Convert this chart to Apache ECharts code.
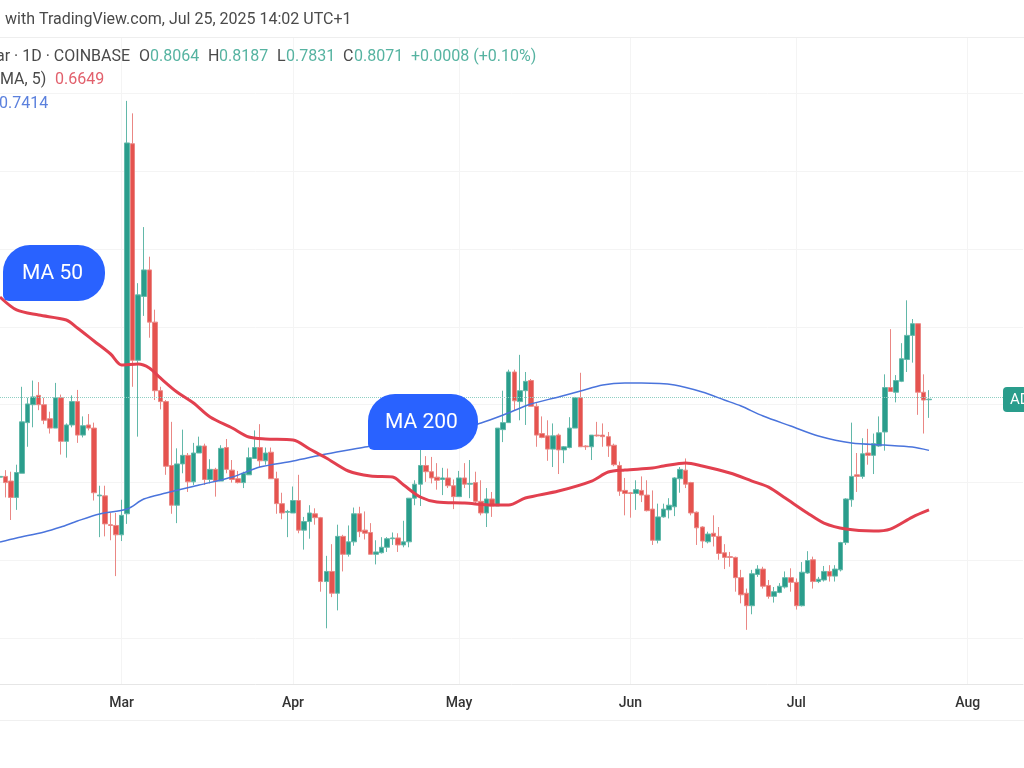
<!DOCTYPE html>
<html>
<head>
<meta charset="utf-8">
<title>ADA daily chart</title>
<style>
  html, body { margin: 0; padding: 0; background: #fff; }
  #chart { width: 1024px; height: 768px; }
</style>
<script src="https://cdn.jsdelivr.net/npm/echarts@6/dist/echarts.min.js"></script>
</head>
<body>
<div id="chart"></div>
<script>
// daily candles from 7 Feb 2025: open, close, low, high
var candles = [
  [.707,.708,.703,.716],[.708,.700,.681,.716],[.702,.681,.652,.714],[.681,.713,.665,.723],
  [.712,.778,.712,.823],[.777,.801,.746,.809],[.800,.810,.771,.831],[.812,.800,.793,.829],
  [.800,.780,.775,.809],[.782,.770,.763,.791],[.770,.809,.770,.828],[.809,.753,.736,.813],
  [.753,.774,.732,.776],[.774,.804,.771,.812],[.804,.761,.751,.819],[.761,.773,.758,.785],
  [.774,.770,.767,.788],[.770,.687,.677,.777],[.683,.684,.630,.696],[.683,.647,.631,.696],
  [.646,.645,.626,.661],[.645,.633,.580,.661],[.633,.658,.625,.678],[.660,1.136,.647,1.190],
  [1.135,.857,.823,1.174],[.857,.941,.759,.956],[.939,.973,.914,1.028],[.973,.906,.886,.990],
  [.906,.818,.806,.922],[.818,.804,.794,.823],[.804,.721,.710,.806],[.722,.671,.660,.778],
  [.671,.724,.648,.744],[.724,.735,.712,.768],[.735,.701,.688,.738],[.701,.738,.697,.751],
  [.738,.747,.738,.759],[.747,.704,.697,.750],[.704,.717,.699,.730],[.717,.702,.682,.719],
  [.702,.744,.702,.748],[.745,.717,.712,.756],[.716,.704,.700,.729],[.705,.700,.699,.715],
  [.700,.712,.693,.714],[.710,.732,.710,.745],[.731,.745,.731,.767],[.745,.728,.720,.775],
  [.728,.738,.723,.745],[.739,.705,.705,.745],[.705,.673,.660,.714],[.673,.661,.653,.687],
  [.662,.663,.630,.665],[.661,.677,.661,.695],[.677,.639,.635,.710],[.639,.650,.614,.656],
  [.650,.661,.628,.671],[.660,.655,.646,.667],[.655,.573,.560,.656],[.573,.586,.513,.606],
  [.586,.558,.553,.621],[.558,.631,.536,.646],[.631,.608,.586,.633],[.608,.624,.605,.645],
  [.624,.660,.619,.668],[.660,.637,.630,.669],[.639,.635,.627,.663],[.636,.608,.608,.648],
  [.608,.611,.595,.626],[.610,.617,.609,.630],[.617,.628,.611,.630],[.628,.629,.620,.636],
  [.629,.620,.611,.635],[.620,.624,.617,.651],[.624,.680,.617,.680],[.680,.698,.671,.703],
  [.698,.722,.670,.742],[.722,.714,.701,.734],[.714,.706,.699,.733],[.707,.703,.691,.725],
  [.704,.706,.684,.719],[.706,.696,.693,.718],[.696,.682,.666,.704],[.682,.706,.682,.715],
  [.706,.698,.693,.725],[.698,.699,.680,.729],[.700,.676,.673,.714],[.676,.661,.658,.703],
  [.661,.679,.643,.693],[.679,.670,.656,.688],[.670,.770,.670,.770],[.768,.777,.752,.818],
  [.777,.842,.777,.845],[.842,.805,.793,.845],[.804,.818,.780,.864],[.818,.830,.774,.842],
  [.831,.798,.798,.833],[.798,.761,.746,.802],[.763,.758,.757,.785],[.760,.743,.728,.780],
  [.743,.760,.720,.776],[.761,.742,.711,.763],[.742,.746,.725,.747],[.745,.770,.744,.784],
  [.770,.809,.770,.810],[.809,.746,.746,.841],[.747,.746,.742,.748],[.746,.761,.729,.761],
  [.761,.760,.759,.778],[.761,.759,.746,.776],[.759,.747,.733,.765],[.748,.723,.721,.750],
  [.722,.689,.683,.727],[.690,.686,.658,.706],[.687,.686,.655,.688],[.686,.691,.665,.703],
  [.690,.684,.675,.708],[.684,.664,.663,.703],[.666,.626,.620,.690],[.626,.656,.622,.673],
  [.656,.666,.655,.673],[.665,.671,.654,.680],[.669,.706,.657,.707],[.705,.717,.687,.720],
  [.716,.698,.693,.731],[.700,.661,.658,.701],[.662,.642,.620,.663],[.643,.625,.616,.644],
  [.624,.634,.622,.637],[.635,.631,.618,.658],[.631,.609,.601,.643],[.610,.604,.589,.621],
  [.605,.604,.592,.611],[.604,.578,.560,.605],[.578,.556,.545,.588],[.558,.542,.511,.564],
  [.542,.583,.531,.588],[.582,.589,.579,.594],[.589,.567,.564,.592],[.568,.554,.551,.575],
  [.554,.560,.546,.566],[.559,.567,.558,.571],[.566,.578,.564,.586],[.578,.572,.560,.590],
  [.572,.542,.537,.577],[.542,.585,.541,.598],[.584,.600,.583,.612],[.601,.573,.564,.605],
  [.573,.576,.571,.579],[.575,.586,.573,.593],[.586,.580,.573,.594],[.580,.589,.573,.594],
  [.588,.623,.586,.624],[.623,.679,.620,.680],[.678,.708,.669,.777],[.710,.708,.688,.738],
  [.708,.737,.705,.757],[.738,.735,.723,.769],[.735,.750,.711,.763],[.747,.764,.746,.785],
  [.765,.822,.741,.839],[.822,.817,.817,.897],[.816,.831,.803,.838],[.830,.859,.829,.879],
  [.858,.889,.842,.934],[.889,.904,.854,.910],[.904,.816,.787,.904],[.816,.806,.763,.839],
  [.8064,.8071,.7831,.8187]
];

// moving averages at these days (days since 7 Feb)
var ma50Days = [0,3,7,12,14,17,20,22,25,27,29,32,35,38,42,45,48,53,56,59,63,67,71,73,76,79,84,89,92,95,101,107,110,113,118,120,124,127,132,136,139,142,146,149,153,158,161,165,168];
var ma50Values = [.9382,.9216,.9151,.9087,.8985,.8818,.8651,.8509,.8522,.8471,.8343,.8163,.8022,.7842,.7701,.7585,.7560,.7547,.7431,.7316,.7149,.7084,.7072,.6969,.6815,.6751,.6738,.6712,.6712,.6802,.6892,.7020,.7136,.7162,.7187,.7213,.7252,.7213,.7123,.7020,.6943,.6802,.6610,.6481,.6404,.6379,.6404,.6558,.6649];
var ma200Days = [0,3,8,11,14,18,23,26,30,36,42,47,53,59,66,74,81,87,91,96,101,105,109,113,116,122,127,131,134,138,143,148,154,160,165,168];
var ma200Values = [.6237,.6289,.6366,.6430,.6507,.6597,.6661,.6789,.6866,.6969,.7072,.7200,.7277,.7367,.7457,.7560,.7637,.7765,.7868,.8009,.8099,.8176,.8253,.8278,.8278,.8253,.8163,.8060,.7983,.7855,.7726,.7598,.7508,.7483,.7457,.7414];

var lastPrice = 0.8071;
var priceGrid = [0.5, 0.6, 0.7, 0.8, 0.9, 1.0, 1.1, 1.2];
var monthNames = ['Jan','Feb','Mar','Apr','May','Jun','Jul','Aug','Sep','Oct','Nov','Dec'];
var dayCount = 186;

var dates = [];
for (var i = 0; i < dayCount; i++) {
  dates.push(new Date(Date.UTC(2025, 1, 7 + i)));
}
var dayLabels = dates.map(function(d) {
  return d.getUTCDate() === 1 ? monthNames[d.getUTCMonth()] : '';
});
function isMonthStart(index) {
  return dayLabels[index] !== '';
}
function pairs(days, values) {
  return days.map(function(d, k) { return [d, values[k]]; });
}

var green = '#2a9d8c';
var red = '#e5534f';
var font = 'Roboto, sans-serif';
var dark = '#4a4a4a';
var softGreen = '#56b3a1';

function headText(text, x, y, color) {
  return { type: 'text', z: 60, style: { text: text, x: x, y: y, verticalAlign: 'middle', fill: color, font: '16px ' + font } };
}
function bubble(x, y, w, h, label) {
  return [
    { type: 'rect', z: 100, shape: { x: x, y: y, width: w, height: h, r: [27, 27, 27, 6] }, style: { fill: '#2962ff' } },
    { type: 'text', z: 101, style: { text: label, x: x + w / 2 - 1.5, y: y + h / 2 + 1, align: 'center', verticalAlign: 'middle', fill: '#fff', font: '21px ' + font } }
  ];
}

var chart = echarts.init(document.getElementById('chart'), null, { renderer: 'canvas' });

chart.setOption({
  animation: false,
  backgroundColor: '#ffffff',
  grid: { left: 0, top: 37, width: 1023, height: 647 },
  xAxis: {
    type: 'category',
    data: dayLabels,
    boundaryGap: false,
    axisLine: { lineStyle: { color: '#e6e6e6' } },
    axisTick: { show: false },
    axisLabel: {
      interval: function(index) { return isMonthStart(index); },
      color: '#333',
      fontFamily: font,
      fontSize: 14,
      fontWeight: 500,
      margin: 12
    },
    splitLine: {
      show: true,
      interval: function(index) { return isMonthStart(index); },
      lineStyle: { color: '#f4f4f4' }
    }
  },
  yAxis: {
    type: 'value',
    min: 0.4415,
    max: 1.272,
    axisLine: { show: false },
    axisTick: { show: false, customValues: priceGrid },
    axisLabel: { show: false },
    splitLine: { show: true, lineStyle: { color: '#f4f4f4' } }
  },
  series: [
    {
      type: 'candlestick',
      data: candles,
      barWidth: 5,
      itemStyle: {
        color: green,
        color0: red,
        borderColor: '#62b8a9',
        borderColor0: '#ea8784',
        borderWidth: 1
      },
      markLine: {
        silent: true,
        symbol: 'none',
        label: { show: false },
        lineStyle: { color: '#8fcfc3', type: 'dotted', width: 1 },
        data: [{ yAxis: lastPrice }]
      }
    },
    {
      type: 'line',
      data: pairs(ma200Days, ma200Values),
      showSymbol: false,
      smooth: 0.3,
      z: 5,
      lineStyle: { color: '#4a74dc', width: 1.5 }
    },
    {
      type: 'line',
      data: pairs(ma50Days, ma50Values),
      showSymbol: false,
      smooth: 0.3,
      z: 6,
      lineStyle: { color: '#e2404f', width: 3 }
    }
  ],
  graphic: [
    { type: 'rect', z: 50, shape: { x: 0, y: 37, width: 1024, height: 1 }, style: { fill: '#eeeeee' } },
    { type: 'rect', z: 50, shape: { x: 0, y: 720, width: 1024, height: 1 }, style: { fill: '#f0f0f0' } },
    headText('with TradingView.com, Jul 25, 2025 14:02 UTC+1', 5, 20, dark),
    headText('ar · 1D · COINBASE', -4, 57, dark),
    headText('O', 139, 57, dark),
    headText('0.8064', 150, 57, softGreen),
    headText('H', 208, 57, dark),
    headText('0.8187', 219, 57, softGreen),
    headText('L', 277, 57, dark),
    headText('0.7831', 286, 57, softGreen),
    headText('C', 343, 57, dark),
    headText('0.8071', 354, 57, softGreen),
    headText('+0.0008 (+0.10%)', 411, 57, softGreen),
    headText('MA, 5)', 0, 80, dark),
    headText('0.6649', 55, 80, '#e2606c'),
    headText('0.7414', -1, 104, '#5b80dd'),
    { type: 'rect', z: 60, shape: { x: 1003, y: 387, width: 30, height: 25, r: 4 }, style: { fill: '#2a9d8c' } },
    { type: 'text', z: 61, style: { text: 'AD', x: 1010, y: 400, verticalAlign: 'middle', fill: '#fff', font: '15px ' + font } }
  ].concat(bubble(3, 245, 102, 56, 'MA 50'), bubble(368, 394, 110, 56, 'MA 200'))
});

window.addEventListener('resize', function() { chart.resize(); });
</script>
</body>
</html>
